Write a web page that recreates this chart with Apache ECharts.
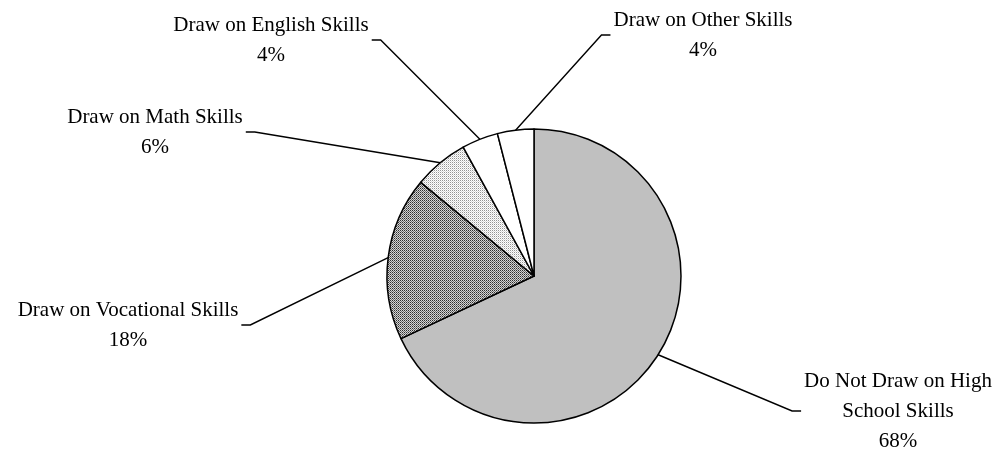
<!DOCTYPE html>
<html>
<head>
<meta charset="utf-8">
<style>
  html, body { margin: 0; padding: 0; background: #ffffff; }
  #chart { width: 1005px; height: 451px; }
</style>
<script src="https://cdn.jsdelivr.net/npm/echarts@6/dist/echarts.min.js"></script>
</head>
<body>
<div id="chart"></div>
<script>
// How graduates use high school skills on the job (share of respondents, %)
const categories = [
  'Do Not Draw on High\nSchool Skills',
  'Draw on Vocational Skills',
  'Draw on Math Skills',
  'Draw on English Skills',
  'Draw on Other Skills'
];
const shares = [68, 18, 6, 4, 4];

// Pie placement
const CX = 534, CY = 276, R = 147;

// Where each label block is centred on the page
const labelSpots = [[898, 411], [128, 325], [155, 132], [271, 40], [703, 35]];

// Small repeating fills for the patterned slices
function makePattern(size, dots) {
  const c = document.createElement('canvas');
  c.width = size[0]; c.height = size[1];
  const ctx = c.getContext('2d');
  ctx.fillStyle = '#ffffff';
  ctx.fillRect(0, 0, size[0], size[1]);
  dots.forEach(function (d) {
    ctx.fillStyle = d[2];
    ctx.fillRect(d[0], d[1], 1, 1);
  });
  return { image: c, repeat: 'repeat' };
}
const denseDots = makePattern([2, 2], [[0, 0, '#2e2e2e'], [1, 1, '#6e6e6e'], [1, 0, '#d4d4d4'], [0, 1, '#d4d4d4']]);
const sparseDots = makePattern([2, 2], [[0, 0, '#949494'], [1, 1, '#d8d8d8']]);

const fills = ['#c0c0c0', denseDots, sparseDots, '#ffffff', '#ffffff'];

const chart = echarts.init(document.getElementById('chart'), null, { renderer: 'canvas' });

chart.setOption({
  animation: false,
  backgroundColor: '#ffffff',
  series: [{
    type: 'pie',
    center: [CX, CY],
    radius: R,
    startAngle: 90,
    clockwise: true,
    avoidLabelOverlap: false,
    data: shares.map(function (v, i) {
      return { name: categories[i], value: v, itemStyle: { color: fills[i] } };
    }),
    itemStyle: { borderColor: '#000000', borderWidth: 1.5 },
    emphasis: { disabled: true },
    label: {
      show: true,
      position: 'outside',
      formatter: '{b}\n{c}%',
      fontFamily: '"Liberation Serif", "Times New Roman", serif',
      fontSize: 21,
      lineHeight: 30,
      color: '#000000',
      align: 'center'
    },
    labelLine: {
      show: true,
      length: 10,
      length2: 10,
      lineStyle: { color: '#000000', width: 1.4 }
    },
    labelLayout: function (params) {
      const spot = labelSpots[params.dataIndex];
      const x = spot[0], y = spot[1];
      const w = params.labelRect.width;
      const onLeft = x < CX;
      const edge = onLeft ? x + w / 2 + 3 : x - w / 2 - 3;
      const turn = onLeft ? edge + 9 : edge - 9;
      const anchor = params.labelLinePoints ? params.labelLinePoints[0] : [CX, CY];
      return {
        x: x,
        y: y,
        align: 'center',
        verticalAlign: 'middle',
        labelLinePoints: [anchor, [turn, y], [edge, y]]
      };
    }
  }]
});
</script>
</body>
</html>
